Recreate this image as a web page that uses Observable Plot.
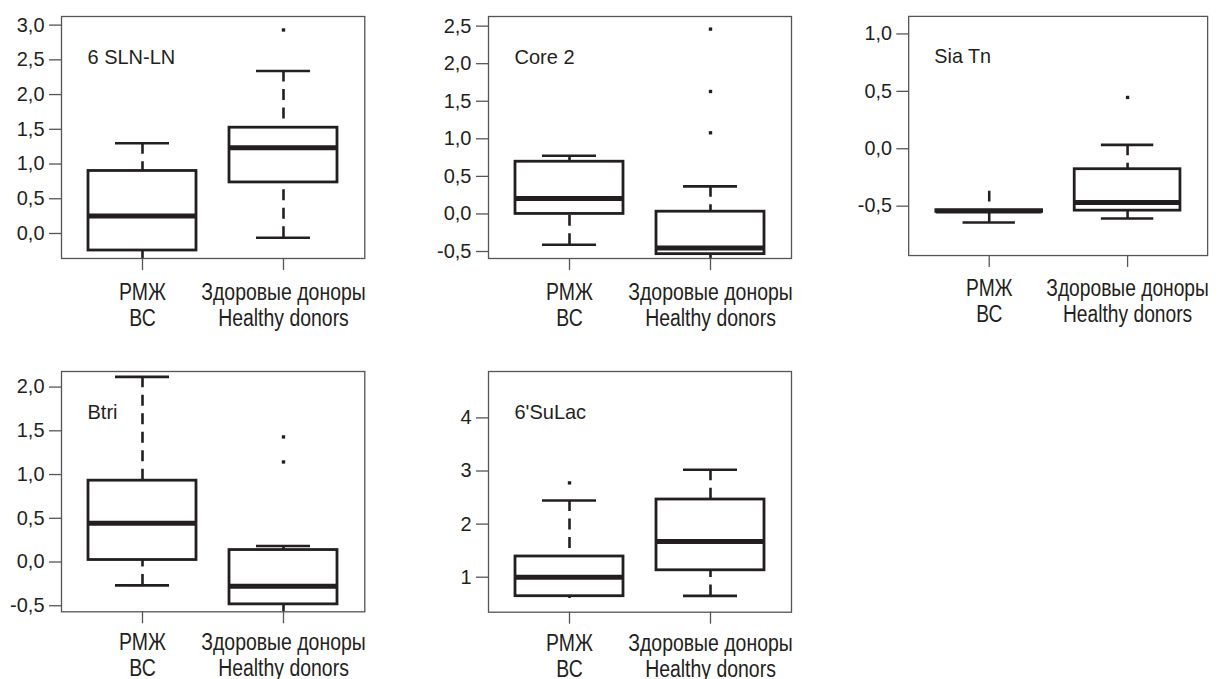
<!DOCTYPE html>
<html><head><meta charset="utf-8">
<script src="https://cdn.jsdelivr.net/npm/d3@7"></script>
<script src="https://cdn.jsdelivr.net/npm/@observablehq/plot@0.6"></script>
<style>
html,body{margin:0;padding:0;background:#fff;}
#root{position:relative;width:1219px;height:679px;overflow:hidden;background:#fff;}
.panel{position:absolute;}
.panel svg{font-family:"Liberation Sans",Arial,sans-serif;overflow:visible;color:#231f20;}
</style></head><body><div id="root"></div>
<script>
// ---- data ----
const panelTitles = ["6 SLN-LN", "Core 2", "Sia Tn", "Btri", "6'SuLac"];
const groups = ["BC", "HD"];
const groupLabels = ["РМЖ\nВС", "Здоровые доноры\nHealthy donors"];
// per panel: [BC, HD]
const whiskerLow  = [[-0.41, -0.062], [-0.41, -0.64], [-0.643, -0.608], [-0.267, -0.60], [0.60, 0.648]];
const quartile1   = [[-0.245, 0.735], [0.0, -0.535], [-0.55, -0.539], [0.023, -0.484], [0.642, 1.13]];
const medians     = [[0.25, 1.235], [0.207, -0.453], [-0.543, -0.468], [0.443, -0.278], [1.0, 1.672]];
const quartile3   = [[0.90, 1.523], [0.695, 0.03], [-0.535, -0.178], [0.93, 0.137], [1.39, 2.463]];
const whiskerHigh = [[1.30, 2.34], [0.775, 0.367], [-0.37, 0.034], [2.117, 0.183], [2.445, 3.025]];
const outliers    = [[[], [2.93]], [[], [1.08, 1.63, 2.46]], [[], [0.447]], [[], [1.144, 1.43]], [[2.776], []]];
const lowCapShown  = [[true, true], [true, true], [true, true], [true, true], [false, true]];
const highCapShown = [[true, true], [true, true], [false, true], [true, true], [true, true]];
const yDomains = [[-0.36, 3.124], [-0.593, 2.628], [-0.93, 1.153], [-0.569, 2.178], [0.341, 4.874]];
const yTicks = [[0, 0.5, 1, 1.5, 2, 2.5, 3], [-0.5, 0, 0.5, 1, 1.5, 2, 2.5], [-0.5, 0, 0.5, 1], [-0.5, 0, 0.5, 1, 1.5, 2], [1, 2, 3, 4]];

// ---- layout (frame boxes in page pixels) ----
const frames = [
  {x: 60.7, y: 15.7, w: 303.3, h: 242, pad: 11},
  {x: 487.7, y: 15.7, w: 303, h: 242, pad: 11},
  {x: 909, y: 15.7, w: 302.5, h: 242, pad: 11},
  {x: 60.7, y: 370.7, w: 303.3, h: 240.3, pad: 8},
  {x: 487.7, y: 371.3, w: 303, h: 240.7, pad: 8}
];
const mL = 70, mR = 12, mT = 10, mB = 80;
const ink = "#231f20", frameInk = "#555";
const narrow = 0.81; // horizontal condensing of the category labels
const root = document.getElementById("root");

panelTitles.forEach((title, i) => {
  const F = frames[i];
  const rows = groups.map((g, j) => ({
    g, lo: whiskerLow[i][j], q1: quartile1[i][j], med: medians[i][j],
    q3: quartile3[i][j], hi: whiskerHigh[i][j],
    lowCap: lowCapShown[i][j], highCap: highCapShown[i][j]
  }));
  const outs = groups.flatMap((g, j) => outliers[i][j].map(v => ({g, v})));
  const intTicks = yTicks[i].every(Number.isInteger);
  const fmt = d => intTicks ? String(d) : d.toFixed(1).replace(".", ",");
  const whisk = {x: "g", stroke: ink, strokeWidth: 2.6, strokeDasharray: "11,7.5", clip: true};
  const cap = {x: "g", stroke: ink, strokeWidth: 2.6, inset: 27, clip: true};
  const plot = Plot.plot({
    width: F.w + mL + mR, height: F.h + mT + mB,
    marginLeft: mL, marginRight: mR, marginTop: mT, marginBottom: mB,
    style: {background: "transparent", overflow: "visible"},
    x: {type: "band", domain: groups, paddingInner: 0.234, paddingOuter: 0.19, label: null},
    y: {domain: yDomains[i], label: null},
    marks: [
      Plot.ruleX(rows, {...whisk, y1: "hi", y2: "q3"}),
      Plot.ruleX(rows, {...whisk, y1: "lo", y2: "q1"}),
      Plot.tickY(rows.filter(d => d.highCap), {...cap, y: "hi"}),
      Plot.tickY(rows.filter(d => d.lowCap), {...cap, y: "lo"}),
      Plot.barY(rows, {x: "g", y1: "q1", y2: "q3", fill: "white", stroke: ink, strokeWidth: 2.8}),
      Plot.tickY(rows, {x: "g", y: "med", stroke: ink, strokeWidth: 5}),
      Plot.dot(outs, {x: "g", y: "v", symbol: "square", r: 1.9, fill: ink, stroke: null}),
      Plot.text([title], {text: d => d, frameAnchor: "top-left", textAnchor: "start", lineAnchor: "top",
        dx: 26, dy: 33, fontSize: 20, fill: ink}),
      Plot.frame({stroke: frameInk, strokeWidth: 1.3}),
      Plot.axisY({ticks: yTicks[i], tickFormat: fmt, tickSize: 12, tickPadding: 5, fontSize: 20,
        stroke: frameInk, strokeWidth: 1.3, fill: ink, label: null}),
      Plot.axisX({tickFormat: g => groupLabels[groups.indexOf(g)], tickSize: 12, tickPadding: F.pad,
        fontSize: 24, lineHeight: 1.08, stroke: frameInk, strokeWidth: 1.3, fill: ink, label: null})
    ]
  });
  // condense the category labels (the reference uses a narrow face)
  d3.select(plot).selectAll('g[aria-label="x-axis tick label"] text').each(function() {
    const t = this.getAttribute("transform") || "";
    this.setAttribute("transform", t + ` scale(${narrow},1)`);
  });
  const div = document.createElement("div");
  div.className = "panel";
  div.style.left = (F.x - mL) + "px";
  div.style.top = (F.y - mT) + "px";
  div.appendChild(plot);
  root.appendChild(div);
});
</script>
</body></html>
